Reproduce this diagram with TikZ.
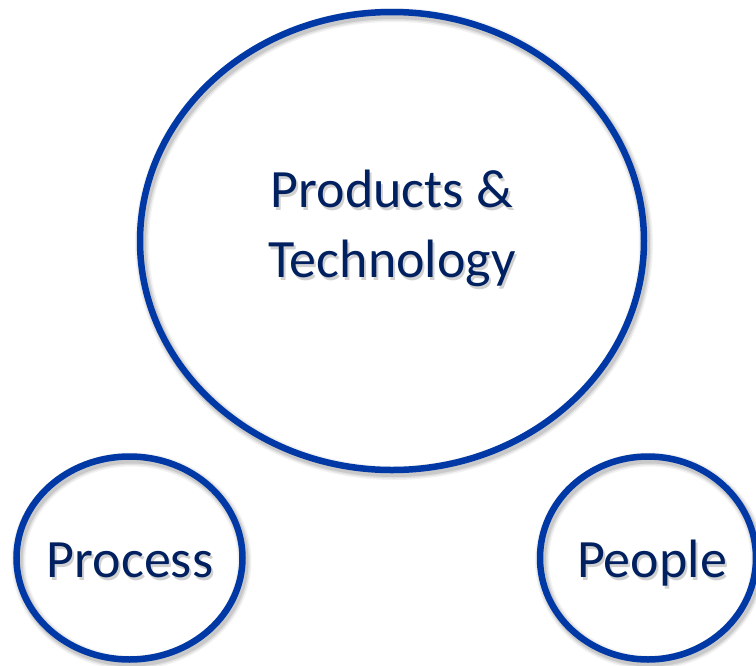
\documentclass[tikz,border=0pt]{standalone}
\usepackage{fontspec}
\setmainfont{Carlito}
\usetikzlibrary{shapes.geometric}
\definecolor{ringblue}{RGB}{0,57,166}
\definecolor{textnavy}{RGB}{0,32,96}
\tikzset{
  ring/.style={ellipse, draw=ringblue, line width=6.5pt, fill=none, inner sep=0pt},
  ringshade/.style={ellipse, draw=black, inner sep=0pt},
  caption/.style={text=textnavy, font=\fontsize{54}{60}\selectfont, inner sep=0pt, anchor=base},
}
% draws a ring with a soft shadow: #1 name, #2 centre, #3 width, #4 height
\newcommand\shadedring[4]{%
  \foreach \w/\o in {14/0.05, 11/0.07, 8/0.10}{%
    \node[ringshade, line width=\w pt, draw opacity=\o, minimum width=#3pt, minimum height=#4pt]
      at ([shift={(2pt,-3pt)}]#2) {};}
  \node[ring, minimum width=#3pt, minimum height=#4pt] (#1) at (#2) {};
}
% draws a text line with a soft grey shadow underneath
\newcommand\shadedtext[3]{%
  \node[caption] (#1) at (#2)
    {\rlap{\kern2pt\raisebox{-3pt}{\textcolor{black!18}{#3}}}#3};
}
\begin{document}
\begin{tikzpicture}[x=1pt, y=-1pt]
  \useasboundingbox (0,0) rectangle (756,665);
  \fill[white] (0,0) rectangle (756,665);

  \shadedring{prodring}{392,241}{504}{458}
  \shadedring{procring}{129.5,558}{226}{203}
  \shadedring{peopring}{648,558}{216}{203}

  \shadedtext{prodA}{392,207}{Products \&}
  \shadedtext{prodB}{392,277}{Technology}
  \shadedtext{proc}{130,577}{Process}
  \shadedtext{peop}{652,577}{People}
\end{tikzpicture}
\end{document}
